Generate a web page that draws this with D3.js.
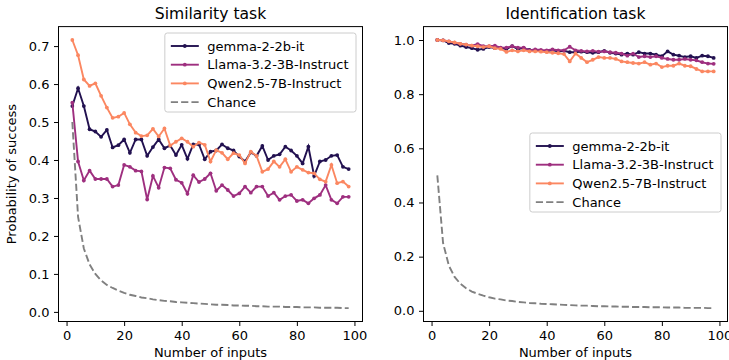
<!DOCTYPE html>
<html>
<head>
<meta charset="utf-8">
<script src="https://cdn.jsdelivr.net/npm/d3@7"></script>
<style>
  body { margin: 0; background: white; }
  text { font-family: "DejaVu Sans", sans-serif; }
</style>
</head>
<body>
<div id="container"></div>
<script>
let w = 729;
let h = 360;

// number of inputs (x values shared by every series)
let nInputs = [2,4,6,8,10,12,14,16,18,20,22,24,26,28,30,32,34,36,38,40,42,44,46,48,50,
  52,54,56,58,60,62,64,66,68,70,72,74,76,78,80,82,84,86,88,90,92,94,96,98];

let modelNames = ["gemma-2-2b-it", "Llama-3.2-3B-Instruct", "Qwen2.5-7B-Instruct", "Chance"];
let modelColors = ["#221150", "#9e2f7f", "#fb8761", "#808080"];

// similarity task
let simGemma = [0.542,0.589,0.542,0.481,0.475,0.461,0.479,0.433,0.439,0.454,0.419,0.454,0.454,0.411,0.434,0.454,0.431,0.438,0.413,0.440,0.403,0.441,0.441,0.402,0.422,
  0.425,0.441,0.431,0.425,0.409,0.396,0.420,0.411,0.437,0.400,0.411,0.415,0.435,0.425,0.411,0.391,0.435,0.358,0.396,0.400,0.411,0.413,0.382,0.376];
let simLlama = [0.551,0.396,0.346,0.372,0.350,0.350,0.350,0.330,0.334,0.387,0.382,0.372,0.370,0.296,0.358,0.327,0.380,0.378,0.348,0.340,0.311,0.360,0.342,0.350,0.365,
  0.319,0.334,0.321,0.305,0.312,0.330,0.314,0.330,0.330,0.305,0.314,0.295,0.305,0.308,0.292,0.295,0.286,0.299,0.308,0.334,0.295,0.286,0.303,0.303];
let simQwen = [0.716,0.676,0.612,0.595,0.602,0.569,0.538,0.511,0.514,0.524,0.494,0.472,0.463,0.465,0.482,0.462,0.483,0.438,0.448,0.457,0.448,0.435,0.446,0.440,0.396,
  0.426,0.419,0.402,0.418,0.413,0.391,0.422,0.411,0.369,0.376,0.396,0.382,0.402,0.369,0.382,0.374,0.367,0.365,0.349,0.343,0.387,0.339,0.343,0.330];

// identification task
let idGemma = [1.000,0.999,0.989,0.986,0.979,0.974,0.970,0.964,0.967,0.974,0.970,0.970,0.967,0.977,0.967,0.970,0.963,0.962,0.960,0.958,0.963,0.957,0.960,0.955,0.955,
  0.957,0.955,0.953,0.955,0.960,0.953,0.950,0.946,0.950,0.946,0.955,0.950,0.950,0.946,0.940,0.958,0.946,0.942,0.937,0.940,0.934,0.942,0.940,0.934];
let idLlama = [1.000,0.999,0.995,0.990,0.986,0.983,0.979,0.985,0.977,0.977,0.979,0.972,0.972,0.977,0.972,0.972,0.962,0.965,0.963,0.962,0.965,0.962,0.962,0.975,0.962,
  0.960,0.958,0.960,0.957,0.958,0.955,0.953,0.950,0.942,0.950,0.937,0.940,0.937,0.940,0.934,0.930,0.927,0.927,0.930,0.927,0.925,0.918,0.913,0.912];
let idQwen = [1.000,0.999,0.995,0.991,0.986,0.983,0.979,0.977,0.974,0.977,0.970,0.967,0.956,0.962,0.958,0.962,0.958,0.958,0.957,0.955,0.953,0.951,0.948,0.921,0.950,
  0.934,0.918,0.927,0.937,0.934,0.934,0.930,0.921,0.918,0.915,0.913,0.918,0.909,0.913,0.900,0.905,0.905,0.913,0.905,0.903,0.893,0.884,0.884,0.884];

// chance level (one over the number of inputs)
let chance = [0.500,0.250,0.167,0.125,0.100,0.083,0.071,0.063,0.056,0.050,0.045,0.042,0.038,0.036,0.033,0.031,0.029,0.028,0.026,0.025,0.024,0.023,0.022,0.021,0.020,
  0.019,0.019,0.018,0.017,0.017,0.016,0.016,0.015,0.015,0.014,0.014,0.014,0.013,0.013,0.013,0.012,0.012,0.012,0.011,0.011,0.011,0.011,0.010,0.010];

let xTicks = [0, 20, 40, 60, 80, 100];
let simTicks = [0, 0.1, 0.2, 0.3, 0.4, 0.5, 0.6, 0.7];
let idTicks = [0, 0.2, 0.4, 0.6, 0.8, 1.0];

let viz = d3.select("#container").append("svg")
    .attr("width", w)
    .attr("height", h)
    .style("background-color", "white")
;

let plotTop = 26.6, plotBottom = 321.5, panelW = 304;

// matplotlib style 5% margins
function padded(ext) {
  let m = (ext[1] - ext[0]) * 0.05;
  return [ext[0] - m, ext[1] + m];
}

function drawPanel(left, title, series, yTicks, legendPos, withYLabel) {
  let g = viz.append("g");
  let x = d3.scaleLinear().domain(padded(d3.extent(nInputs))).range([left, left + panelW]);
  let allVals = series.reduce(function(a, s) { return a.concat(s); }, []);
  let y = d3.scaleLinear().domain(padded(d3.extent(allVals))).range([plotBottom, plotTop]);

  // axes
  let xAxis = d3.axisBottom(x).tickValues(xTicks).tickFormat(d3.format("d")).tickSize(4.5).tickPadding(4.5);
  let yAxis = d3.axisLeft(y).tickValues(yTicks).tickFormat(d3.format(".1f")).tickSize(4.5).tickPadding(4.5);
  let gx = g.append("g").attr("transform", "translate(0," + plotBottom + ")").call(xAxis);
  let gy = g.append("g").attr("transform", "translate(" + left + ",0)").call(yAxis);
  [gx, gy].forEach(function(a) {
    a.select(".domain").remove();
    a.selectAll("line").attr("stroke", "black").attr("stroke-width", 1);
    a.selectAll("text").attr("font-size", 13).attr("fill", "black").attr("font-family", "DejaVu Sans");
  });

  // lines
  let line = d3.line().x(function(d, i) { return x(nInputs[i]); }).y(function(d) { return y(d); });
  series.forEach(function(s, k) {
    let isChance = (k == 3);
    g.append("path")
        .datum(s)
        .attr("d", line)
        .attr("fill", "none")
        .attr("stroke", modelColors[k])
        .attr("stroke-width", 1.9)
        .attr("stroke-dasharray", isChance ? "7.2,3.1" : null)
    ;
    if (!isChance) {
      g.selectAll(".dot" + k).data(s).enter()
        .append("circle")
          .attr("cx", function(d, i) { return x(nInputs[i]); })
          .attr("cy", function(d) { return y(d); })
          .attr("r", 1.9)
          .attr("fill", modelColors[k])
      ;
    }
  });

  // frame
  g.append("rect")
      .attr("x", left).attr("y", plotTop)
      .attr("width", panelW).attr("height", plotBottom - plotTop)
      .attr("fill", "none").attr("stroke", "black").attr("stroke-width", 1);

  // title + labels
  g.append("text")
      .text(title)
      .attr("x", left + panelW / 2).attr("y", 19)
      .attr("text-anchor", "middle").attr("font-size", 15.6);
  g.append("text")
      .text("Number of inputs")
      .attr("x", left + panelW / 2).attr("y", 357)
      .attr("text-anchor", "middle").attr("font-size", 13);
  if (withYLabel) {
    g.append("text")
        .text("Probability of success")
        .attr("transform", "translate(16," + ((plotTop + plotBottom) / 2) + ") rotate(-90)")
        .attr("text-anchor", "middle").attr("font-size", 13);
  }

  // legend
  let lg = g.append("g");
  let box = lg.append("rect")
      .attr("fill", "white").attr("fill-opacity", 0.8)
      .attr("stroke", "#cccccc").attr("stroke-width", 1)
      .attr("rx", 2.5).attr("ry", 2.5);
  let items = lg.append("g");
  let maxW = 0;
  modelNames.forEach(function(name, k) {
    let cy = legendPos.top + 13 + k * 18.7;
    let x0 = 6;
    items.append("line")
        .attr("x1", x0).attr("x2", x0 + 28)
        .attr("y1", cy).attr("y2", cy)
        .attr("stroke", modelColors[k]).attr("stroke-width", 1.9)
        .attr("stroke-dasharray", k == 3 ? "7.2,3.1" : null);
    if (k < 3) {
      items.append("circle").attr("cx", x0 + 14).attr("cy", cy).attr("r", 1.9).attr("fill", modelColors[k]);
    }
    let t = items.append("text")
        .text(name)
        .attr("x", x0 + 28 + 8.5).attr("y", cy)
        .attr("dy", "0.35em").attr("font-size", 13);
    maxW = Math.max(maxW, t.node().getComputedTextLength());
  });
  let boxW = 6 + 28 + 8.5 + maxW + 7.5;
  let boxX = legendPos.right - boxW;
  items.attr("transform", "translate(" + boxX + ",0)");
  box.attr("x", boxX).attr("y", legendPos.top)
     .attr("width", boxW).attr("height", 79);
}

drawPanel(58.5, "Similarity task", [simGemma, simLlama, simQwen, chance], simTicks, {right: 356, top: 33}, true);
drawPanel(423.5, "Identification task", [idGemma, idLlama, idQwen, chance], idTicks, {right: 721, top: 133}, false);
</script>
</body>
</html>
